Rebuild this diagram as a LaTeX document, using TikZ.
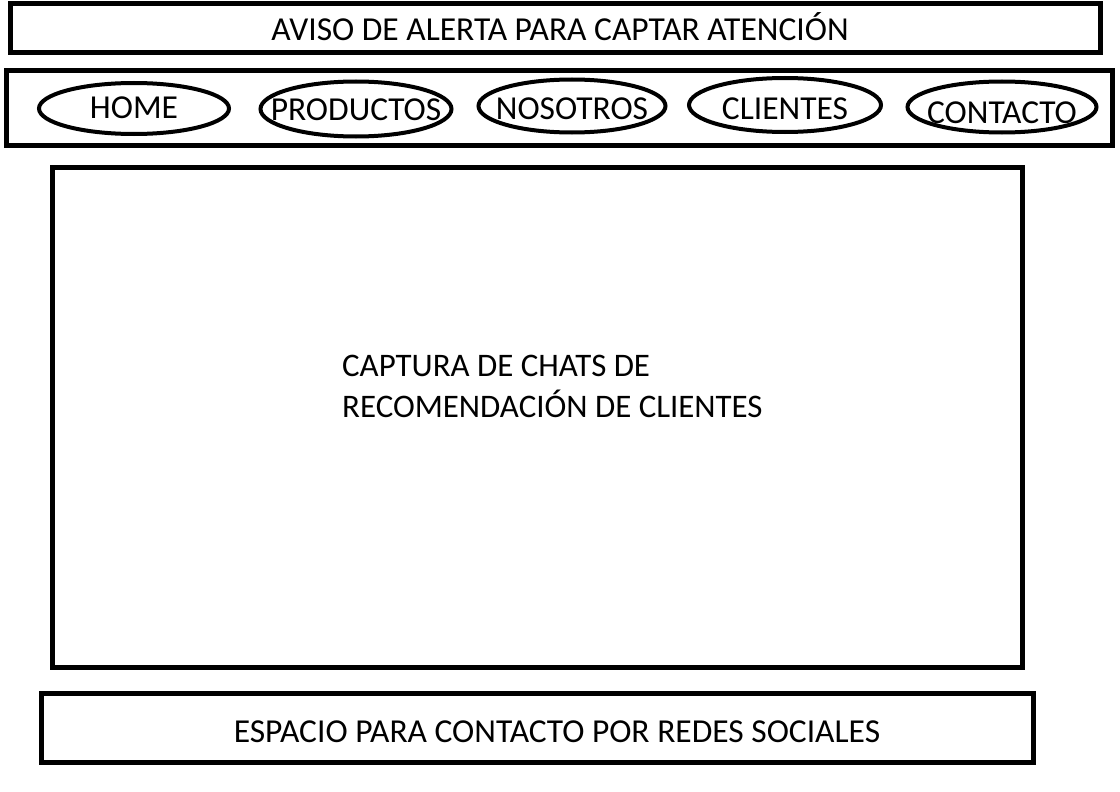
\documentclass[tikz,border=0pt]{standalone}
\usepackage{fontspec}
\setmainfont{Carlito}
\usepackage{tikz}
\usetikzlibrary{shapes, positioning}

% menu labels overflow their ellipse, so they take no width
\newcommand{\navtext}[1]{\makebox[0pt]{#1}}

\tikzset{
  frame/.style={draw=black, line width=5pt, inner sep=0pt},
  navitem/.style={draw=black, ellipse, line width=4pt, inner sep=0pt,
    minimum width=190pt, minimum height=53pt, text height=22pt, text depth=0pt},
  caption/.style={inner sep=0pt, text height=22pt, text depth=0pt}
}

\begin{document}
\begin{tikzpicture}[x=1pt, y=-1pt, font=\fontsize{33.5}{41}\selectfont]
  \useasboundingbox (0,0) rectangle (1120,792);

  % Alert bar
  \node[frame, minimum width=1090pt, minimum height=49pt] (alerta) at (555,28) {};
  \node[caption] (alertatxt) at (560,30) {AVISO DE ALERTA PARA CAPTAR ATENCIÓN};

  % Menu bar
  \node[frame, minimum width=1106pt, minimum height=74pt] (menu) at (559,108) {};
  \node[navitem, minimum height=51pt, text height=19pt] (home) at (134,108.5) {\navtext{HOME}};
  \node[navitem, minimum width=191pt, minimum height=55pt, text height=24pt] (productos) at (356,109) {\navtext{PRODUCTOS}};
  \node[navitem, minimum width=187pt, text height=27pt] (nosotros) at (572,106) {\navtext{NOSOTROS}};
  \node[navitem, minimum width=192pt, minimum height=54pt, text height=29pt] (clientes) at (785,105) {\navtext{CLIENTES}};
  \node[navitem, minimum width=189pt, minimum height=51pt, text height=32pt] (contacto) at (1002,107) {\navtext{CONTACTO}};

  % Main area
  \node[frame, minimum width=970pt, minimum height=500pt] (chats) at (537,417) {};
  \node[inner sep=0pt, anchor=base west, align=left, font=\fontsize{32.9}{41}\selectfont] (chatstxt) at (342,417)
    {CAPTURA DE CHATS DE\\RECOMENDACIÓN DE CLIENTES};

  % Footer
  \node[frame, minimum width=992pt, minimum height=69pt] (redes) at (537,728) {};
  \node[caption] (redestxt) at (557,731) {ESPACIO PARA CONTACTO POR REDES SOCIALES};
\end{tikzpicture}
\end{document}
